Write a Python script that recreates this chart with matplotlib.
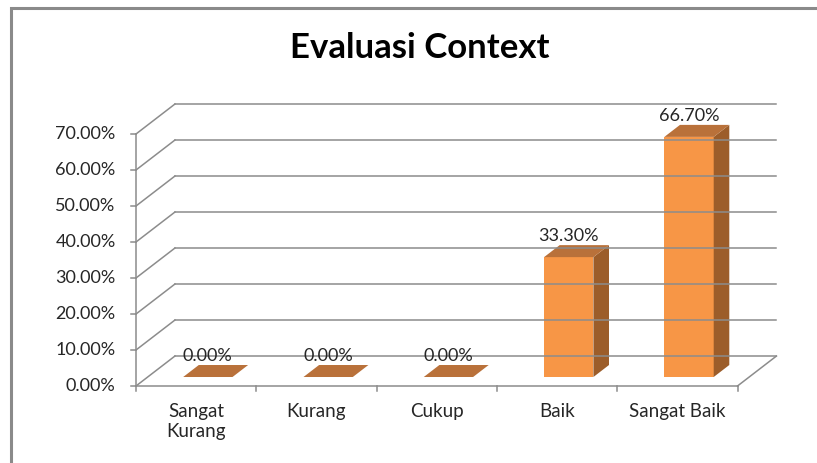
import matplotlib.pyplot as plt
from matplotlib.patches import Polygon, Rectangle

categories = ["Sangat\nKurang", "Kurang", "Cukup", "Baik", "Sangat Baik"]
values = [0.0, 0.0, 0.0, 33.3, 66.7]
ticks = [0, 10, 20, 30, 40, 50, 60, 70]

# 3d look: depth offset of the back wall, in data units (categories, percent)
DX, DY = 0.324, 8.33
Z0, Z1 = 0.3, 0.7
BAR_W = 0.41
FRONT, SIDE, TOP = "#f79646", "#9c5d2a", "#b9713a"
GRID = "#8c8c8c"
FONT = "Lato"

fig = plt.figure(figsize=(8.17, 4.63), dpi=100)
ax = fig.add_axes([0, 0, 1, 1])
ax.set_xlim(-136 / 120.3, (817 - 136) / 120.3)
ax.set_ylim((386 - 463) / 3.6, 386 / 3.6)
ax.axis("off")

n = len(categories)


def shift(x, y, z):
    return x + z * DX, y + z * DY


# back wall gridlines + left diagonals
for t in ticks:
    bx, by = shift(0, t, 1)
    ax.plot([0, bx], [t, by], color=GRID, lw=1.1)
    ax.plot([bx, n + DX], [by, by], color=GRID, lw=1.1)
    ax.plot([-0.045, 0], [t, t], color=GRID, lw=1.1)
    ax.text(-0.17, t, f"{t:.2f}%", ha="right", va="center", fontsize=13,
            family=FONT, color="#262626")

# floor and axes
fx, fy = shift(n, 0, 1)
ax.plot([n, fx], [0, fy], color=GRID, lw=1.1)
ax.plot([0, n], [0, 0], color=GRID, lw=1.1)
ax.plot([0, 0], [0, ticks[-1]], color=GRID, lw=1.1)
for i in range(n + 1):
    ax.plot([i, i], [0, -1.5], color=GRID, lw=1.1)

for i, (cat, v) in enumerate(zip(categories, values)):
    x0 = i + 0.5 - BAR_W / 2
    x1 = i + 0.5 + BAR_W / 2
    a = shift(x0, 0, Z0)
    b = shift(x1, 0, Z0)
    c = shift(x1, v, Z0)
    d = shift(x0, v, Z0)
    e = shift(x1, v, Z1)
    f = shift(x0, v, Z1)
    g = shift(x1, 0, Z1)
    if v > 0:
        ax.add_patch(Polygon([a, b, c, d], closed=True, fc=FRONT, ec="none"))
        ax.add_patch(Polygon([b, g, e, c], closed=True, fc=SIDE, ec="none"))
    ax.add_patch(Polygon([d, c, e, f], closed=True, fc=TOP, ec="none"))
    lx, _ = shift(i + 0.5, v, Z0)
    _, ly = shift(i + 0.5, v, Z1)
    ax.text(lx, ly + 2.6, f"{v:.2f}%", ha="center", va="center", fontsize=13,
            family=FONT, color="#262626")
    ax.text(i + 0.5, -4.8, cat, ha="center", va="top", fontsize=13.5,
            family=FONT, color="#262626", linespacing=1.2)

fig.text(0.514, 0.897, "Evaluasi Context", ha="center", va="center",
         fontsize=25, fontweight="bold", family=FONT, color="black")

fig.patches.append(Rectangle((11 / 817, -0.1), 1.2, 1 - 7.5 / 463 + 0.1,
                             transform=fig.transFigure, fill=False,
                             ec="#8a8a8a", lw=2.2))

fig.savefig("out.png", dpi=100)
